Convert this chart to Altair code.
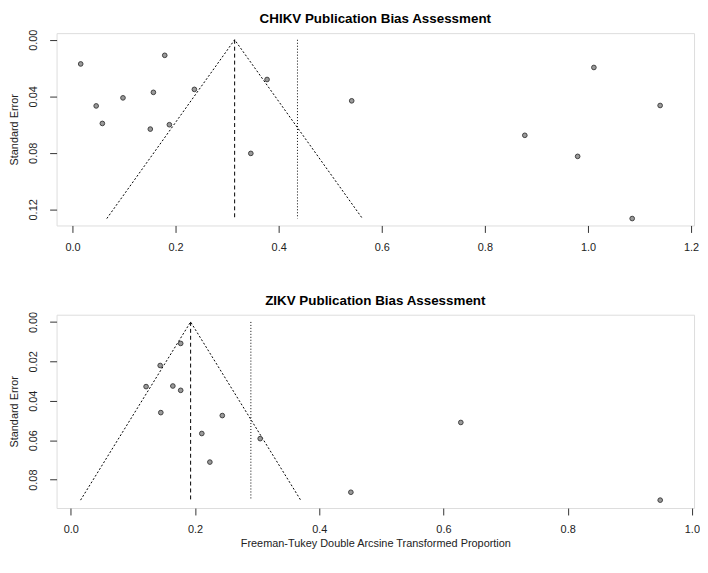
import altair as alt
import pandas as pd

# ---- CHIKV data ----
chikv_x = [0.016, 0.046, 0.058, 0.098, 0.151, 0.157, 0.179, 0.188, 0.2365, 0.346,
           0.3775, 0.5417, 0.8775, 0.980, 1.0115, 1.0858, 1.140]
chikv_se = [0.0171, 0.0468, 0.0592, 0.0411, 0.0632, 0.0372, 0.0110, 0.0601, 0.0351, 0.0804,
            0.0281, 0.0432, 0.0676, 0.0825, 0.0196, 0.1265, 0.0465]
chikv_est = 0.3146
chikv_ref = 0.4365

# ---- ZIKV data ----
zikv_x = [0.177, 0.144, 0.1213, 0.1644, 0.177, 0.145, 0.244, 0.211, 0.305, 0.224,
          0.451, 0.628, 0.949]
zikv_se = [0.0109, 0.0221, 0.0328, 0.0325, 0.0347, 0.0460, 0.0475, 0.0566, 0.0592, 0.0711,
           0.0864, 0.0510, 0.0904]
zikv_est = 0.193
zikv_ref = 0.290

FONT = "Liberation Sans"


def panel(xs, ses, est, ref, title, xdom, ydom, xticks, yticks, ylabels, xtitle, h):
    semax = max(ses)
    pts = pd.DataFrame({"x": xs, "se": ses})
    funnel = pd.DataFrame({
        "x": [est - 1.96 * semax, est, est + 1.96 * semax],
        "se": [semax, 0.0, semax],
        "o": [0, 1, 2],
    })
    vlines = pd.DataFrame({"x": [est], "se": [0.0], "se2": [semax]})
    rlines = pd.DataFrame({"x": [ref], "se": [0.0], "se2": [semax]})

    lab_expr = "indexof(" + str(ylabels) + ", datum.label) >= 0 ? datum.label : ''"

    xenc = alt.X("x:Q",
                 scale=alt.Scale(domain=xdom, nice=False, zero=False),
                 axis=alt.Axis(values=xticks, format=".1f", title=xtitle,
                               domain=False, grid=False, tickSize=7, tickColor="#333",
                               labelFont=FONT, labelFontSize=11, labelColor="#222",
                               labelPadding=9, titleFont=FONT, titleFontSize=11,
                               titleFontWeight="normal", titleColor="#222",
                               titlePadding=3))
    yenc = alt.Y("se:Q",
                 scale=alt.Scale(domain=ydom, reverse=True, nice=False, zero=False),
                 axis=alt.Axis(values=yticks, format=".2f", labelExpr=lab_expr,
                               title="Standard Error",
                               domain=False, grid=False, tickSize=7, tickColor="#333",
                               labelAngle=270, labelFont=FONT, labelFontSize=11,
                               labelColor="#222", labelPadding=11,
                               minExtent=29, maxExtent=29,
                               titleFont=FONT, titleFontSize=11, titleFontWeight="normal",
                               titleColor="#222", titlePadding=8))

    f = alt.Chart(funnel).mark_line(color="black", strokeWidth=1, strokeDash=[2, 2]).encode(
        x=xenc, y=yenc, order="o:Q")
    v = alt.Chart(vlines).mark_rule(color="black", strokeWidth=1, strokeDash=[4, 3]).encode(
        x="x:Q", y="se:Q", y2="se2:Q")
    r = alt.Chart(rlines).mark_rule(color="black", strokeWidth=1, strokeDash=[1, 2]).encode(
        x="x:Q", y="se:Q", y2="se2:Q")
    p = alt.Chart(pts).mark_point(filled=True, fill="#9a9a9a", stroke="#404040",
                                  strokeWidth=1, size=22, opacity=1, shape="circle").encode(
        x="x:Q", y="se:Q")
    return alt.layer(f, v, r, p).properties(
        width=643, height=h,
        title=alt.TitleParams(title, font=FONT, fontSize=13.5, fontWeight="bold",
                              color="black", anchor="middle", offset=4))


top = panel(chikv_x, chikv_se, chikv_est, chikv_ref, "CHIKV Publication Bias Assessment",
            [-0.0308, 1.2058], [-0.0047, 0.1314],
            [0, 0.2, 0.4, 0.6, 0.8, 1.0, 1.2],
            [0, 0.02, 0.04, 0.06, 0.08, 0.10, 0.12],
            ["0.00", "0.04", "0.08", "0.12"], None, 194)

bottom = panel(zikv_x, zikv_se, zikv_est, zikv_ref, "ZIKV Publication Bias Assessment",
               [-0.0228, 1.0035], [-0.00367, 0.0944],
               [0, 0.2, 0.4, 0.6, 0.8, 1.0],
               [0, 0.02, 0.04, 0.06, 0.08],
               ["0.00", "0.02", "0.04", "0.06", "0.08"],
               "Freeman-Tukey Double Arcsine Transformed Proportion", 195)

chart = alt.vconcat(top, bottom, spacing=40).properties(
    padding={"left": 0, "top": 0, "right": 0, "bottom": 0}
).configure_view(stroke="#5a5a5a", strokeWidth=1.5).configure(background="white")

chart.save("out.html", embed_options={"renderer": "svg", "actions": False})
